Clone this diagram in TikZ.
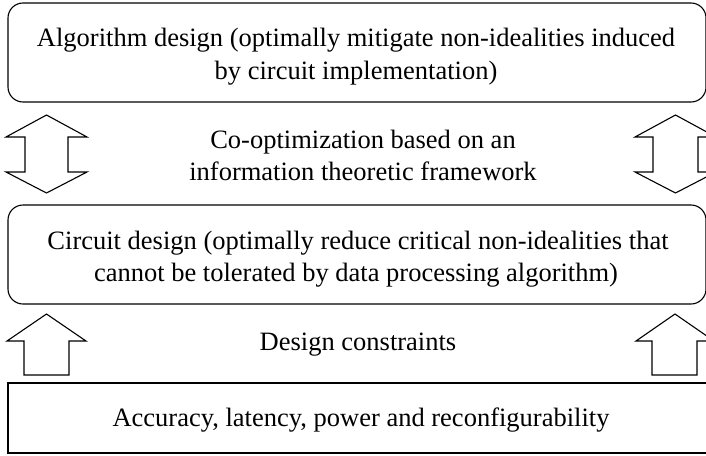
\documentclass[tikz,border=0pt]{standalone}
\usepackage{fontspec}
\setmainfont{Liberation Serif}
\begin{document}
\begin{tikzpicture}[x=1pt,y=-1pt,
  line width=1.1pt,
  rbox/.style={draw,rounded corners=15pt},
  sbox/.style={draw},
  txt/.style={align=center,inner sep=0pt,font=\fontsize{26.5}{32}\selectfont},
  blockarrow/.style={draw,line join=miter,fill=white}]
\clip (0,0) rectangle (706,455);
\useasboundingbox (0,0) rectangle (706,455);
% boxes
\draw[rbox] (8,3) rectangle (706,102);
\node[txt,anchor=base] (t1) at (356,46.7) {Algorithm design (optimally mitigate non-idealities induced};
\node[txt,anchor=base] (t1b) at (356,79) {by circuit implementation)};
\draw[rbox] (8,205) rectangle (706,304);
\node[txt,anchor=base] (t2) at (358,249) {Circuit design (optimally reduce critical non-idealities that};
\node[txt,anchor=base] (t2b) at (356,281) {cannot be tolerated by data processing algorithm)};
\draw[sbox] (8,383) rectangle (712,453);
\node[txt,anchor=base] (t3) at (361,426) {Accuracy, latency, power and reconfigurability};
% middle texts
\node[txt,anchor=base] (m1) at (363,148) {Co-optimization based on an};
\node[txt,anchor=base] (m1b) at (363,180) {information theoretic framework};
\node[txt,anchor=base] (m2) at (358,350) {Design constraints};
% double arrows
\draw[blockarrow] (46.5,115) -- (87,137) -- (68,137) -- (68,172) -- (87,172) -- (46.5,193)
  -- (6,172) -- (25,172) -- (25,137) -- (6,137) -- cycle;
\draw[blockarrow] (675.5,115) -- (716,137) -- (698,137) -- (698,172) -- (716,172) -- (675.5,193)
  -- (635,172) -- (653,172) -- (653,137) -- (635,137) -- cycle;
% up arrows
\draw[blockarrow] (46.5,314) -- (86,341) -- (69,341) -- (69,375) -- (24,375) -- (24,341) -- (7,341) -- cycle;
\draw[blockarrow] (675,314) -- (714,341) -- (697,341) -- (697,375) -- (652,375) -- (652,341) -- (636,341) -- cycle;
\end{tikzpicture}
\end{document}
